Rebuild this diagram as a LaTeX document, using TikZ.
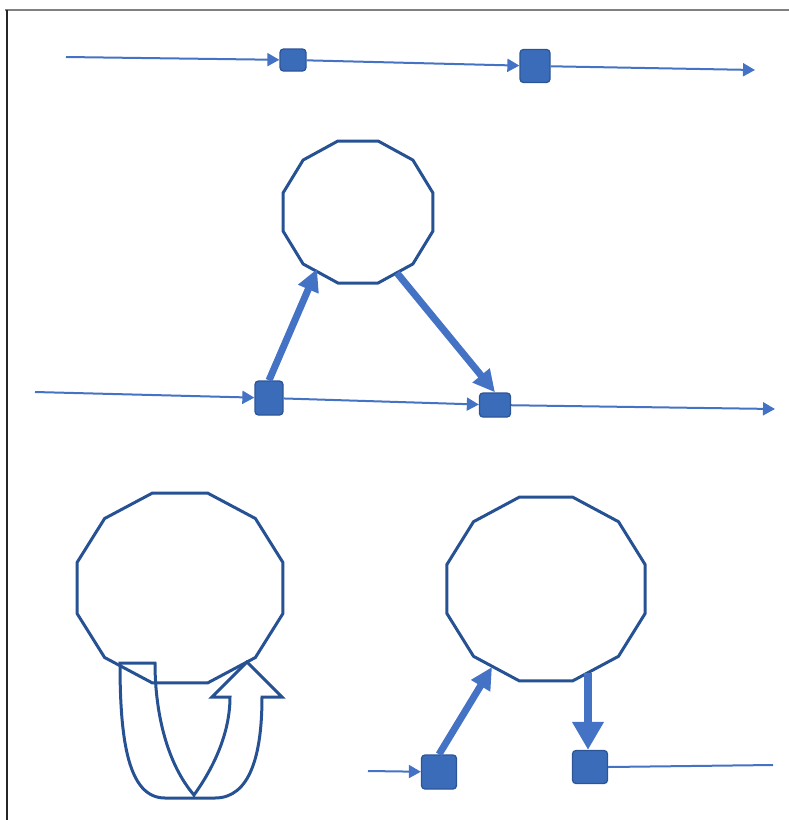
\documentclass[tikz,border=0pt]{standalone}
\usetikzlibrary{arrows.meta}
\definecolor{lineblue}{RGB}{68,114,196}
\definecolor{boxfill}{RGB}{58,108,185}
\definecolor{boxedge}{RGB}{45,85,150}
\definecolor{polyblue}{RGB}{38,82,148}
\newcommand\dodeca[5]{%
  \coordinate (#1) at (#2,#3);
  \draw[poly] ({#2+#4*cos(15)},{#3+#5*sin(15)})
    \foreach \a in {45,75,...,345}{ -- ({#2+#4*cos(\a)},{#3+#5*sin(\a)}) } -- cycle;}
\begin{document}
\begin{tikzpicture}[x=1pt,y=-1pt,
  box/.style={draw=boxedge,fill=boxfill,line width=1.3pt,rounded corners=3.5pt,inner sep=0pt},
  flow/.style={draw=lineblue,line width=2pt,-{Triangle[length=12pt,width=13pt]}},
  flowend/.style={draw=lineblue,line width=2pt},
  bigarrow/.style={draw=lineblue,line width=7pt,-{Triangle[length=22pt,width=21pt]}},
  downarrow/.style={draw=lineblue,line width=8pt,-{Triangle[length=28pt,width=30pt]}},
  poly/.style={draw=polyblue,line width=3pt,line join=miter},
  loopline/.style={draw=polyblue,line width=3pt,line join=miter}]
\useasboundingbox (0,0) rectangle (789,820);
% frame
\draw[gray,line width=1.5pt] (5,10) -- (789,10);
\draw[black!85,line width=1.5pt] (7,10) -- (7,820);

% ---- top row
\node[box,minimum width=26pt,minimum height=22pt] (t1) at (293,60) {};
\node[box,minimum width=30pt,minimum height=33pt] (t2) at (535,66) {};
\coordinate (ts) at (66,57);
\coordinate (te) at (755,70);
\draw[flow] (ts) -- (t1);
\draw[flow] (t1) -- (t2);
\draw[flow] (t2) -- (te);

% ---- middle
\dodeca{m}{358}{212}{77.6}{73.5}
\node[box,minimum width=28pt,minimum height=34pt] (a) at (269,398) {};
\node[box,minimum width=31pt,minimum height=24pt] (b) at (495,405) {};
\coordinate (ms) at (35,392);
\coordinate (me) at (775,409);
\coordinate (mp1) at (317,269);
\coordinate (mp2) at (397,273);
\draw[flow] (ms) -- (a);
\draw[flow] (a) -- (b);
\draw[flow] (b) -- (me);
\draw[bigarrow] (a.north) -- (mp1);
\draw[bigarrow] (mp2) -- (b.north);

% ---- bottom left: self loop
\dodeca{l}{180}{588}{106.6}{98.3}
\draw[loopline] (120,663) -- (155,663)
  .. controls (155,715) and (168,765) .. (194,795)
  .. controls (212,770) and (230,735) .. (230,697)
  -- (212,697) -- (247,662) -- (282,697) -- (262,697)
  .. controls (262,755) and (250,798) .. (215,798)
  -- (165,798)
  .. controls (128,798) and (120,740) .. (120,663) -- cycle;

% ---- bottom right
\dodeca{r}{546}{589}{102.5}{95.2}
\node[box,minimum width=35pt,minimum height=34pt] (c) at (439,772) {};
\node[box,minimum width=35pt,minimum height=33pt] (d) at (590,767) {};
\coordinate (cs) at (368,771);
\coordinate (de) at (773,765);
\coordinate (rp1) at (492,667);
\coordinate (rp2) at (588,673);
\draw[flow] (cs) -- (c);
\draw[flowend] (d.east) -- (de);
\draw[bigarrow] (c.north) -- (rp1);
\draw[downarrow] (rp2) -- (rp2 |- d.north);
\end{tikzpicture}
\end{document}
